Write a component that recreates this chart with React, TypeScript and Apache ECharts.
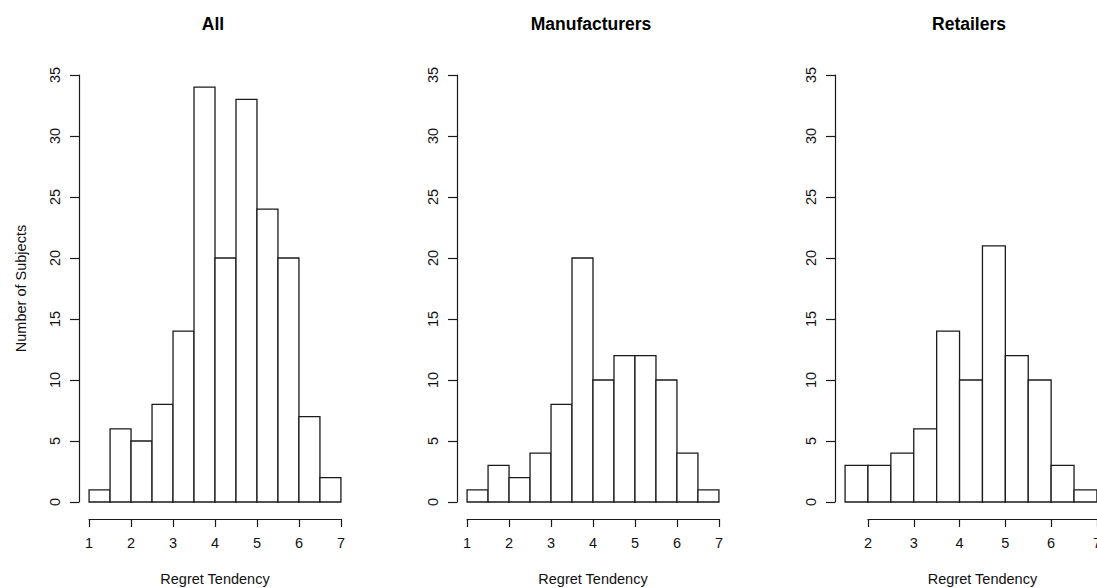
import React, { useEffect, useRef } from "react";
import * as echarts from "echarts";

// ---- data ----
const panelTitles = ["All", "Manufacturers", "Retailers"];
const allBreaks = [1, 1.5, 2, 2.5, 3, 3.5, 4, 4.5, 5, 5.5, 6, 6.5, 7];
const allCounts = [1, 6, 5, 8, 14, 34, 20, 33, 24, 20, 7, 2];
const manufacturerBreaks = [1, 1.5, 2, 2.5, 3, 3.5, 4, 4.5, 5, 5.5, 6, 6.5, 7];
const manufacturerCounts = [1, 3, 2, 4, 8, 20, 10, 12, 12, 10, 4, 1];
const retailerBreaks = [1.5, 2, 2.5, 3, 3.5, 4, 4.5, 5, 5.5, 6, 6.5, 7];
const retailerCounts = [3, 3, 4, 6, 14, 10, 21, 12, 10, 3, 1];
const xTickMins = [1, 1, 2];
const xTickMax = 7;
const yMax = 35;
const yInterval = 5;
const xLabel = "Regret Tendency";
const yLabel = "Number of Subjects";

const FONT = "'Liberation Sans', Arial, Helvetica, sans-serif";
const INK = "#1a1a1a";
const FS = 14.5;

export default function App() {
  const ref = useRef<HTMLDivElement>(null);
  useEffect(() => {
    if (!ref.current) return;
    const chart = echarts.init(ref.current, undefined, { renderer: "svg" });

    const breaksList = [allBreaks, manufacturerBreaks, retailerBreaks];
    const countsList = [allCounts, manufacturerCounts, retailerCounts];
    const plotLefts = [79, 457, 835];
    const plotW = 272;
    const plotTop = 75;
    const plotBottom = 502;
    const xAxisY = 519;

    const grids: any[] = [];
    const xAxes: any[] = [];
    const yAxes: any[] = [];
    const series: any[] = [];
    const graphics: any[] = [];

    breaksList.forEach((br, p) => {
      const lo = br[0];
      const hi = br[br.length - 1];
      const pad = (hi - lo) * 0.04;
      const xmin = lo - pad;
      const xmax = hi + pad;
      const L = plotLefts[p];
      const toPx = (v: number) => L + ((v - xmin) / (xmax - xmin)) * plotW;

      // plot grid (bars + y axis)
      const gPlot = grids.length;
      grids.push({ left: L, top: plotTop, width: plotW, height: plotBottom - plotTop, containLabel: false });
      xAxes.push({
        gridIndex: gPlot, type: "value", min: xmin, max: xmax, show: false,
      });
      yAxes.push({
        gridIndex: gPlot, type: "value", min: 0, max: yMax, interval: yInterval,
        axisLine: { show: true, lineStyle: { color: INK, width: 1.2 } },
        axisTick: { show: true, length: 9, lineStyle: { color: INK, width: 1.2 } },
        axisLabel: { rotate: 90, margin: 17, fontSize: FS, color: "#111", fontFamily: FONT },
        splitLine: { show: false },
        name: p === 0 ? yLabel : "",
        nameLocation: "middle",
        nameRotate: 90,
        nameGap: 51,
        nameTextStyle: { fontSize: FS, color: "#111", fontFamily: FONT },
      });
      const data = countsList[p].map((c, i) => [br[i], br[i + 1], c]);
      series.push({
        type: "custom",
        xAxisIndex: gPlot, yAxisIndex: gPlot,
        data,
        encode: { x: [0, 1], y: 2 },
        renderItem: (_params: any, api: any) => {
          const x0 = api.value(0), x1 = api.value(1), c = api.value(2);
          const a = api.coord([x0, 0]);
          const b = api.coord([x1, c]);
          return {
            type: "rect",
            shape: { x: a[0], y: b[1], width: b[0] - a[0], height: a[1] - b[1] },
            style: { fill: "#ffffff", stroke: INK, lineWidth: 1.3 },
          };
        },
      });

      // x axis grid (R-style detached axis)
      const tMin = xTickMins[p];
      const gx = grids.length;
      const axL = toPx(tMin);
      const axR = toPx(xTickMax);
      grids.push({ left: axL, top: xAxisY - 10, width: axR - axL, height: 10, containLabel: false });
      xAxes.push({
        gridIndex: gx, type: "value", min: tMin, max: xTickMax, interval: 1, position: "bottom",
        axisLine: { show: true, onZero: false, lineStyle: { color: INK, width: 1.2 } },
        axisTick: { show: true, length: 8, lineStyle: { color: INK, width: 1.2 } },
        axisLabel: { margin: 16, fontSize: FS, color: "#111", fontFamily: FONT },
        splitLine: { show: false },
        name: xLabel, nameLocation: "middle", nameGap: 52,
        nameTextStyle: { fontSize: FS, color: "#111", fontFamily: FONT },
      });
      yAxes.push({ gridIndex: gx, type: "value", show: false, min: 0, max: 1 });

      graphics.push({
        type: "text",
        x: L + plotW / 2 - 2,
        y: 24,
        style: {
          text: panelTitles[p], align: "center", verticalAlign: "middle",
          font: `bold 17.5px ${FONT}`, fill: "#000",
        },
      });
    });

    chart.setOption({
      animation: false,
      backgroundColor: "#ffffff",
      grid: grids,
      xAxis: xAxes,
      yAxis: yAxes,
      series,
      graphic: graphics,
    });
    return () => chart.dispose();
  }, []);
  return (
    <div
      style={{ position: "fixed", left: 0, top: 0, width: 1097, height: 588, overflow: "hidden", background: "#fff" }}
    >
      <div ref={ref} style={{ width: 1130, height: 588 }} />
    </div>
  );
}
